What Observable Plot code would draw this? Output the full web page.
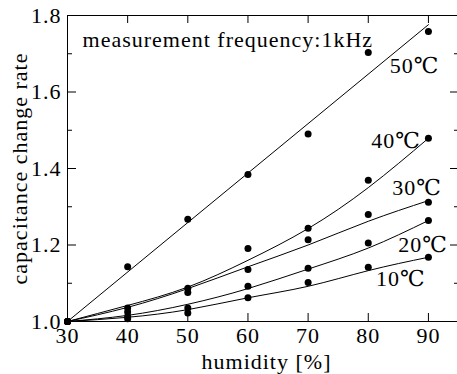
<!DOCTYPE html>
<html>
<head>
<meta charset="utf-8">
<script src="https://cdn.jsdelivr.net/npm/d3@7"></script>
<script src="https://cdn.jsdelivr.net/npm/@observablehq/plot@0.6"></script>
<style>
  html, body { margin: 0; padding: 0; background: #fff; }
  svg text { letter-spacing: 1px; font-family: "Liberation Serif", "Times New Roman", "DejaVu Serif", serif; }
  g[aria-label="ytitle"] text { letter-spacing: 0px; }
</style>
</head>
<body>
<div id="chart"></div>
<script>
// humidity [%]
const humidity = [30, 40, 50, 60, 70, 80, 90];
const temps = ["10℃", "20℃", "30℃", "40℃", "50℃"];
// measured capacitance change rate
const meas10 = [1.0, 1.007, 1.022, 1.062, 1.102, 1.142, 1.168];
const meas20 = [1.0, 1.013, 1.035, 1.092, 1.139, 1.205, 1.264];
const meas30 = [1.0, 1.025, 1.076, 1.136, 1.214, 1.280, 1.312];
const meas40 = [1.0, 1.035, 1.087, 1.191, 1.244, 1.369, 1.479];
const meas50 = [1.0, 1.143, 1.267, 1.384, 1.490, 1.703, 1.758];
// fitted curves
const fit10 = [1.0, 1.011, 1.031, 1.062, 1.092, 1.133, 1.168];
const fit20 = [1.0, 1.016, 1.045, 1.086, 1.137, 1.192, 1.264];
const fit30 = [1.0, 1.037, 1.086, 1.143, 1.200, 1.262, 1.316];
const fit40 = [1.0, 1.042, 1.090, 1.160, 1.243, 1.350, 1.479];
const fit50Humidity = [30, 90];
const fit50 = [1.0, 1.776];
// curve label positions
const labelX = [85.4, 89.1, 88.1, 84.6, 87.7];
const labelY = [1.112, 1.201, 1.348, 1.471, 1.669];
// annotation
const noteText = ["measurement frequency:1kHz"];
const noteX = [32.5];
const noteY = [1.737];
// ticks
const xTicks = [30, 40, 50, 60, 70, 80, 90];
const xInnerTicks = [40, 50, 60, 70, 80, 90];
const yMajor = [1.0, 1.2, 1.4, 1.6, 1.8];
const yMinor = [1.1, 1.3, 1.5, 1.7];
const xTitle = "humidity [%]";
const yTitle = "capacitance change rate";

const measAll = [meas10, meas20, meas30, meas40, meas50];
const fitAll = [fit10, fit20, fit30, fit40];
const points = [];
measAll.forEach((arr, i) => arr.forEach((v, j) => points.push({h: humidity[j], v, t: temps[i]})));
const fits = [];
fitAll.forEach((arr, i) => arr.forEach((v, j) => fits.push({h: humidity[j], v, t: temps[i]})));
const fit50Data = fit50.map((v, j) => ({h: fit50Humidity[j], v}));
const labels = temps.map((t, i) => ({t, x: labelX[i], y: labelY[i]}));

const W = 457, H = 374, ML = 67, MT = 15, MB = 53, MR = 0;
const pw = W - ML - MR, ph = H - MT - MB;
const font = "'Liberation Serif', 'Times New Roman', 'DejaVu Serif', serif";

const chart = Plot.plot({
  width: W,
  height: H,
  marginLeft: ML,
  marginRight: MR,
  marginTop: MT,
  marginBottom: MB,
  style: {fontFamily: font, fontSize: "22px", color: "black", background: "white"},
  x: {domain: [30, 95], range: [ML, 458]},
  y: {domain: [1.0, 1.8]},
  marks: [
    // frame lines
    Plot.ruleY([1.0, 1.8], {stroke: "black", strokeWidth: 1}),
    Plot.ruleX([30], {stroke: "black", strokeWidth: 1}),
    // inward ticks
    Plot.ruleX(xInnerTicks, {stroke: "black", insetTop: ph - 8}),
    Plot.ruleX(xInnerTicks, {stroke: "black", insetBottom: ph - 8}),
    Plot.ruleY(yMajor, {stroke: "black", insetRight: pw - 9}),
    Plot.ruleY(yMinor, {stroke: "black", insetRight: pw - 5}),
    Plot.ruleY(yMajor, {stroke: "black", insetLeft: pw - 7}),
    Plot.ruleY(yMinor, {stroke: "black", insetLeft: pw - 3}),
    // axes labels
    Plot.axisX(xTicks, {anchor: "bottom", tickSize: 0, tickPadding: 6, fontSize: 22, fontFamily: font, label: null, fill: "black"}),
    Plot.axisY(yMajor, {anchor: "left", tickSize: 0, tickPadding: 6, fontSize: 22, fontFamily: font, label: null, fill: "black", tickFormat: d => d.toFixed(1)}),
    // fitted curves
    Plot.line(fits, {x: "h", y: "v", z: "t", curve: "natural", stroke: "black", strokeWidth: 1}),
    Plot.line(fit50Data, {x: "h", y: "v", stroke: "black", strokeWidth: 1}),
    // measured points
    Plot.dot(points, {x: "h", y: "v", r: 3.5, fill: "black", stroke: null}),
    // curve labels
    Plot.text(labels, {x: "x", y: "y", text: "t", fontSize: 22, fontFamily: font, fill: "black", textAnchor: "middle", lineAnchor: "middle"}),
    // annotation
    Plot.text(noteText, {x: (d, i) => noteX[i], y: (d, i) => noteY[i], text: d => d, fontSize: 22, fontFamily: font, fill: "black", textAnchor: "start", lineAnchor: "middle"}),
    // axis titles
    Plot.text([xTitle], {frameAnchor: "bottom", text: d => d, dy: 47, dx: 4, textAnchor: "middle", lineAnchor: "bottom", fontSize: 22, fontFamily: font, fill: "black"}),
    Plot.text([yTitle], {frameAnchor: "left", text: d => d, dx: -48, rotate: -90, textAnchor: "middle", lineAnchor: "middle", fontSize: 22, fontFamily: font, fill: "black", ariaLabel: "ytitle"})
  ]
});
document.getElementById("chart").appendChild(chart);
</script>
</body>
</html>
